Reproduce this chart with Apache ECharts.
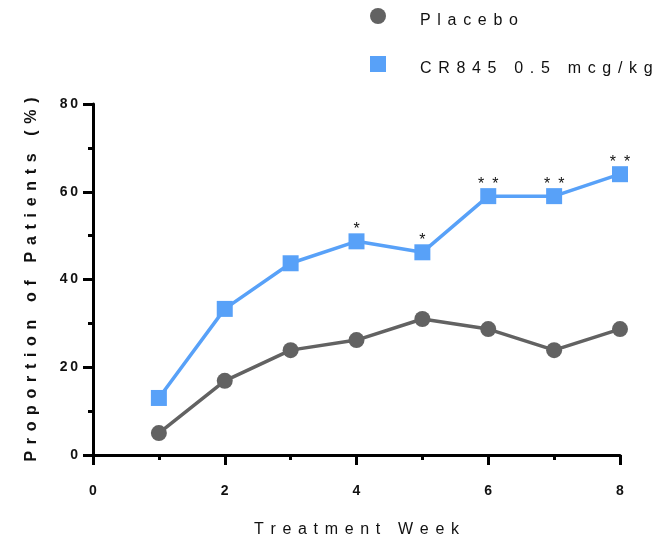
<!DOCTYPE html>
<html><head><meta charset="utf-8">
<script src="https://cdn.jsdelivr.net/npm/echarts@6/dist/echarts.min.js"></script>
<style>html,body{margin:0;padding:0;background:#fff}#c{width:666px;height:539px}</style>
</head><body><div id="c"></div>
<script>
const weeks = [1, 2, 3, 4, 5, 6, 7, 8];
const placebo = [5.0, 16.9, 23.9, 26.2, 31.0, 28.7, 23.9, 28.7];
const cr845 = [13.0, 33.3, 43.7, 48.7, 46.2, 59.0, 59.0, 64.0];
const cr845Sig = ['', '', '', '*', '*', '**', '**', '**'];
const seriesNames = ['Placebo', 'CR845 0.5 mcg/kg'];
const xTitle = 'Treatment Week';
const yTitle = 'Proportion of Patients (%)';

function spaced(s, gap) { return Array.from(s).join(gap); }
const G = '\u2004\u200A';
const font = 'Liberation Sans, Arial, sans-serif';

const chart = echarts.init(document.getElementById('c'));
chart.setOption({
  animation: false,
  grid: { left: 93, right: 46, top: 104, bottom: 84, outerBoundsMode: 'none', containLabel: false },
  legend: {
    orient: 'vertical', left: 370, top: 8, padding: 0, itemWidth: 16, itemHeight: 16, itemGap: 27,
    data: [{ name: seriesNames[0], icon: 'circle' }, { name: seriesNames[1], icon: 'rect' }],
    formatter: n => '{t|' + spaced(n, G) + '}',
    textStyle: { fontFamily: font, fontSize: 16, color: '#111', padding: [0, 0, 0, 29],
      rich: { t: { fontFamily: font, fontSize: 16, color: '#111', padding: [10, 0, 0, 0] } } }
  },
  xAxis: {
    type: 'value', min: 0, max: 8, interval: 2,
    name: spaced(xTitle, G), nameLocation: 'middle', nameGap: 67,
    nameTextStyle: { fontFamily: font, fontSize: 16, color: '#111' },
    axisLine: { lineStyle: { color: '#000', width: 3 } },
    axisTick: { show: true, length: 10, lineStyle: { color: '#000', width: 3 } },
    minorTick: { show: true, splitNumber: 2, length: 5, lineStyle: { color: '#000', width: 3 } },
    splitLine: { show: false },
    axisLabel: { margin: 29, fontFamily: font, fontSize: 14, fontWeight: 'bold', color: '#111' }
  },
  yAxis: {
    type: 'value', min: 0, max: 80, interval: 20,
    name: spaced(yTitle, G), nameLocation: 'middle', nameGap: 53,
    nameTextStyle: { fontFamily: font, fontSize: 16, fontWeight: 'bold', color: '#111' },
    axisLine: { show: true, lineStyle: { color: '#000', width: 3 } },
    axisTick: { show: true, length: 10, lineStyle: { color: '#000', width: 3 } },
    minorTick: { show: true, splitNumber: 2, length: 5, lineStyle: { color: '#000', width: 3 } },
    splitLine: { show: false },
    axisLabel: { margin: 15, fontFamily: font, fontSize: 14, fontWeight: 'bold', color: '#111',
      formatter: v => spaced(String(v), '\u2009') }
  },
  series: [
    {
      name: seriesNames[0], type: 'line', symbol: 'circle', symbolSize: 16,
      data: weeks.map((w, i) => [w, placebo[i]]),
      itemStyle: { color: '#626262' }, lineStyle: { color: '#626262', width: 3.5 }
    },
    {
      name: seriesNames[1], type: 'line', symbol: 'rect', symbolSize: 16,
      data: weeks.map((w, i) => ({ value: [w, cr845[i]],
        label: { show: !!cr845Sig[i], formatter: spaced(cr845Sig[i], '\u2002') } })),
      itemStyle: { color: '#58a1f8' }, lineStyle: { color: '#58a1f8', width: 3.5 },
      label: { position: 'top', distance: -4, fontFamily: font, fontSize: 16, color: '#111' }
    }
  ]
});
</script></body></html>
